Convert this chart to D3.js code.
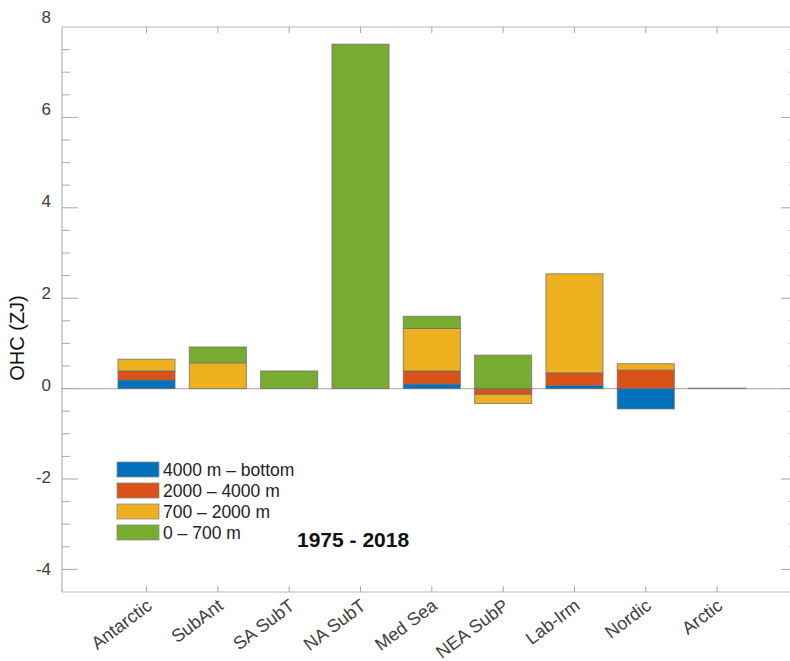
<!DOCTYPE html>
<html>
<head>
<meta charset="utf-8">
<script src="https://cdn.jsdelivr.net/npm/d3@7"></script>
<style>
  html, body { margin: 0; padding: 0; background: #fff; }
  svg { display: block; font-family: "Liberation Sans", Arial, Helvetica, sans-serif; }
</style>
</head>
<body>
<svg id="chart" width="790" height="661"></svg>
<script>
// Regional ocean heat content change by depth layer, 1975 - 2018 (ZJ)
const categories = ["Antarctic", "SubAnt", "SA SubT", "NA SubT", "Med Sea", "NEA SubP", "Lab-Irm", "Nordic", "Arctic"];
const layerNames = ["4000 m \u2013 bottom", "2000 \u2013 4000 m", "700 \u2013 2000 m", "0 \u2013 700 m"];
const layerColors = ["#0072BD", "#D95319", "#EDB120", "#77AC30"];

const layer4000Bottom = [0.19, 0.00, 0.00, 0.00, 0.10, -0.01, 0.07, -0.45, 0.00];
const layer2000to4000 = [0.20, 0.00, 0.00, 0.00, 0.29, -0.12, 0.28, 0.41, 0.00];
const layer700to2000 = [0.26, 0.57, 0.00, 0.00, 0.94, -0.20, 2.19, 0.14, 0.00];
const layer0to700    = [0.00, 0.35, 0.39, 7.62, 0.27, 0.74, 0.00, 0.00, 0.01];

const yMajorTicks = [-4, -2, 0, 2, 4, 6, 8];
const yMinorTicks = d3.range(-4.5, 8.01, 0.5).filter(v => !yMajorTicks.includes(v));
const periodLabel = "1975 - 2018";
const yTitle = "OHC (ZJ)";

const svg = d3.select("#chart");
const plot = { left: 62, right: 797, top: 27, bottom: 592 };

const x = d3.scaleLinear().domain([-0.185, 10.12]).range([plot.left, plot.right]);
const y = d3.scaleLinear().domain([-4.5, 8]).range([plot.bottom, plot.top]);
const barWidth = (x(1) - x(0)) * 0.8;

const axisGray = "#b4b4b4";
const tickGray = "#a8a8a8";
const labelGray = "#404040";

// Rows for stacking, one per region
const rows = categories.map((c, i) => ({
  region: c,
  idx: i + 1,
  l0: layer4000Bottom[i],
  l1: layer2000to4000[i],
  l2: layer700to2000[i],
  l3: layer0to700[i]
}));
const stack = d3.stack().keys(["l0", "l1", "l2", "l3"]).offset(d3.stackOffsetDiverging);
const stacked = stack(rows);

// Zero reference line
svg.append("line")
  .attr("x1", plot.left).attr("x2", plot.right)
  .attr("y1", y(0)).attr("y2", y(0))
  .attr("stroke", axisGray).attr("stroke-width", 1.2);

// Stacked bars
svg.append("g").selectAll("g")
  .data(stacked)
  .join("g")
  .attr("fill", (d, i) => layerColors[i])
  .selectAll("rect")
  .data(d => d.filter(s => s[1] !== s[0]))
  .join("rect")
  .attr("x", d => x(d.data.idx) - barWidth / 2)
  .attr("width", barWidth)
  .attr("y", d => y(Math.max(d[0], d[1])))
  .attr("height", d => Math.max(0.4, Math.abs(y(d[0]) - y(d[1]))))
  .attr("stroke", "#6e6e6e")
  .attr("stroke-opacity", 0.75)
  .attr("stroke-width", 1);

// Axes box
const box = svg.append("g").attr("stroke", axisGray).attr("stroke-width", 1.2).attr("fill", "none");
box.append("line").attr("x1", plot.left).attr("x2", plot.left).attr("y1", plot.top).attr("y2", plot.bottom);
box.append("line").attr("x1", plot.right).attr("x2", plot.right).attr("y1", plot.top).attr("y2", plot.bottom);
box.append("line").attr("x1", plot.left).attr("x2", plot.right).attr("y1", plot.top).attr("y2", plot.top);
box.append("line").attr("x1", plot.left).attr("x2", plot.right).attr("y1", plot.bottom).attr("y2", plot.bottom);

// Y ticks: inward on both sides, long for labelled values
const ticks = svg.append("g").attr("stroke", tickGray).attr("stroke-width", 1);
yMajorTicks.filter(v => v > -4.5 && v < 8).forEach(v => {
  ticks.append("line").attr("x1", plot.left).attr("x2", plot.left + 16).attr("y1", y(v)).attr("y2", y(v));
  ticks.append("line").attr("x1", plot.right).attr("x2", plot.right - 16).attr("y1", y(v)).attr("y2", y(v));
});
yMinorTicks.filter(v => v > -4.5 && v < 8).forEach(v => {
  ticks.append("line").attr("x1", plot.left).attr("x2", plot.left + 8).attr("y1", y(v)).attr("y2", y(v));
  ticks.append("line").attr("x1", plot.right).attr("x2", plot.right - 8).attr("y1", y(v)).attr("y2", y(v));
});
// X ticks at each region, top and bottom
rows.forEach(r => {
  ticks.append("line").attr("x1", x(r.idx)).attr("x2", x(r.idx)).attr("y1", plot.top).attr("y2", plot.top + 6);
  ticks.append("line").attr("x1", x(r.idx)).attr("x2", x(r.idx)).attr("y1", plot.bottom).attr("y2", plot.bottom - 6);
});

// Y tick labels
svg.append("g").selectAll("text")
  .data(yMajorTicks)
  .join("text")
  .attr("x", 51)
  .attr("y", v => y(v) - (v + 4) * 0.85)
  .attr("dy", "0.35em")
  .attr("text-anchor", "end")
  .attr("font-size", 17)
  .attr("fill", labelGray)
  .text(v => v);

// X tick labels, slanted
svg.append("g").selectAll("text")
  .data(rows)
  .join("text")
  .attr("transform", r => `translate(${x(r.idx) - 1},${plot.bottom + 6}) rotate(-37)`)
  .attr("text-anchor", "end")
  .attr("dy", "0.7em")
  .attr("font-size", 18)
  .attr("fill", labelGray)
  .text(r => r.region);

// Y axis title
svg.append("text")
  .attr("transform", `translate(24,338) rotate(-90)`)
  .attr("text-anchor", "middle")
  .attr("font-size", 20)
  .attr("fill", "#111")
  .text(yTitle);

// Legend
const legend = svg.append("g").attr("transform", "translate(117,462)");
layerNames.forEach((name, i) => {
  const g = legend.append("g").attr("transform", `translate(0,${i * 21})`);
  g.append("rect").attr("width", 42).attr("height", 15)
    .attr("fill", layerColors[i]).attr("stroke", "#8a8a8a").attr("stroke-width", 0.8);
  g.append("text").attr("x", 46).attr("y", 7.5).attr("dy", "0.35em")
    .attr("font-size", 17.5).attr("fill", "#222").text(name);
});

// Period annotation
svg.append("text")
  .attr("x", 297).attr("y", 547)
  .attr("font-size", 21).attr("font-weight", "bold").attr("fill", "#111")
  .text(periodLabel);
</script>
</body>
</html>
